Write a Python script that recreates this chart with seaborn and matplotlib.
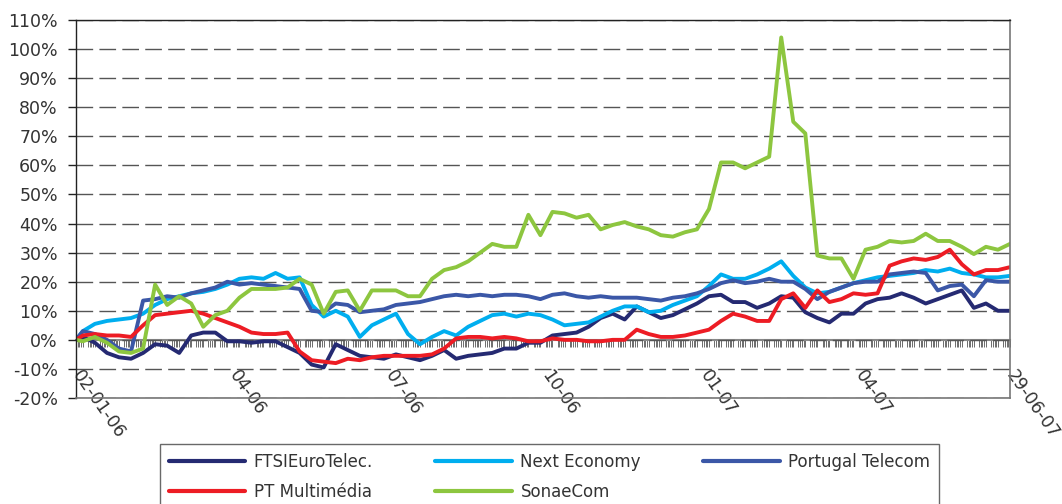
import matplotlib
matplotlib.use("Agg")
import matplotlib.pyplot as plt
import matplotlib.dates as mdates
import matplotlib.ticker as mticker
from matplotlib.lines import Line2D
import pandas as pd
import seaborn as sns

# first day, then weekly readings (Fridays) up to 29-06-07
dates = [pd.Timestamp("2006-01-02")] + list(pd.date_range("2006-01-06", "2007-06-29", freq="7D"))

ftsi = [0,
        1, -1, -4.5, -6, -6.5, -4.5, -1.5, -2, -4.5, 1.5,
        2.5, 2.5, -0.5, -0.5, -1, -0.5, -0.5, -2.5, -4.5, -8.5,
        -9.5, -1.5, -3.5, -5.5, -6, -6.5, -5, -6, -7, -5.5,
        -3.5, -6.5, -5.5, -5, -4.5, -3, -3, -1, -1, 1.5,
        2, 2.5, 4.5, 7.5, 9, 7, 11.5, 9.5, 7.5, 8.5,
        10.5, 12.5, 15, 15.5, 13, 13, 11, 12.5, 15, 14.5,
        9.5, 7.5, 6, 9, 9, 12.5, 14, 14.5, 16, 14.5,
        12.5, 14, 15.5, 17, 11, 12.5, 10, 10]

next_economy = [0,
                3, 5.5, 6.5, 7, 7.5, 9, 12, 14, 15, 16,
                16.5, 17.5, 19, 21, 21.5, 21, 23, 21, 21.5, 12,
                8, 10, 8, 1, 5, 7, 9, 2, -1.5, 1,
                3, 1.5, 4.5, 6.5, 8.5, 9, 8, 9, 8.5, 7,
                5, 5.5, 6, 8, 10, 11.5, 11.5, 9.5, 10, 12,
                13.5, 15, 18.5, 22.5, 21, 21, 22.5, 24.5, 27, 22,
                18, 16, 16.5, 18, 19.5, 20.5, 21.5, 22, 22.5, 23,
                24, 23.5, 24.5, 23, 22.5, 21.5, 21.5, 22]

portugal_telecom = [0,
                    3, 2, 0, -3, -4, 13.5, 14, 15, 14.5, 16,
                    17, 18, 20, 19, 19.5, 19, 18.5, 18, 17.5, 10,
                    9.5, 12.5, 12, 9.5, 10, 10.5, 12, 12.5, 13, 14,
                    15, 15.5, 15, 15.5, 15, 15.5, 15.5, 15, 14, 15.5,
                    16, 15, 14.5, 15, 14.5, 14.5, 14.5, 14, 13.5, 14.5,
                    15, 16, 17.5, 19.5, 20.5, 19.5, 20, 21, 20, 20,
                    17.5, 14, 16.5, 18, 19.5, 20, 20, 22.5, 23, 23.5,
                    23, 17, 18.5, 19, 15, 20.5, 20, 20]

pt_multimedia = [0,
                 1.5, 2, 1.5, 1.5, 1, 5, 8.5, 9, 9.5, 10,
                 9, 7.5, 6, 4.5, 2.5, 2, 2, 2.5, -4, -7,
                 -7.5, -8, -6.5, -7, -6, -5.5, -5.5, -5.5, -5.5, -5,
                 -3, 0.5, 1, 1, 0.5, 1, 0.5, -0.5, -0.5, 0.5,
                 0, 0, -0.5, -0.5, 0, 0, 3.5, 2, 1, 1,
                 1.5, 2.5, 3.5, 6.5, 9, 8, 6.5, 6.5, 14, 16,
                 11, 17, 13, 14, 16, 15.5, 16, 25.5, 27, 28,
                 27.5, 28.5, 31, 26, 22.5, 24, 24, 25]

sonaecom = [0,
            -0.5, 1, -1, -4, -4.5, -3, 19, 12, 15, 12.5,
            4.5, 8.5, 10, 14.5, 17.5, 17.5, 17.5, 18, 21, 19,
            9, 16.5, 17, 10, 17, 17, 17, 15, 15, 21,
            24, 25, 27, 30, 33, 32, 32, 43, 36, 44,
            43.5, 42, 43, 38, 39.5, 40.5, 39, 38, 36, 35.5,
            37, 38, 45, 61, 61, 59, 61, 63, 104, 75,
            71, 29, 28, 28, 21, 31, 32, 34, 33.5, 34,
            36.5, 34, 34, 32, 29.5, 32, 31, 33]

names = ["FTSIEuroTelec.", "Next Economy", "Portugal Telecom", "PT Multimédia", "SonaeCom"]
colors = ["#252a72", "#00aeef", "#3b57a7", "#ed1c24", "#8dc63f"]

tick_dates = pd.to_datetime(["2006-01-02", "2006-04-03", "2006-07-03", "2006-10-02",
                             "2007-01-02", "2007-04-02", "2007-06-29"])
tick_labels = ["02-01-06", "04-06", "07-06", "10-06", "01-07", "04-07", "29-06-07"]

wide = pd.DataFrame({"date": dates, names[0]: ftsi, names[1]: next_economy,
                     names[2]: portugal_telecom, names[3]: pt_multimedia, names[4]: sonaecom})
long = wide.melt(id_vars="date", var_name="series", value_name="value")

sns.set_style("white")
plt.rcParams["font.family"] = ["DejaVu Sans"]
text_color = "#333333"

fig = plt.figure(figsize=(10.62, 5.04), dpi=100)
ax = fig.add_axes([76 / 1062, 1 - 398 / 504, (1010 - 76) / 1062, (398 - 20) / 504])

sns.lineplot(data=long, x="date", y="value", hue="series", hue_order=names,
             palette=colors, linewidth=2.8, ax=ax, legend=False)

ax.set_xlim(pd.Timestamp("2006-01-02"), pd.Timestamp("2007-06-29"))
ax.set_ylim(-20, 110)
ax.set_yticks(range(-20, 111, 10))
ax.yaxis.set_major_formatter(mticker.FuncFormatter(lambda v, p: f"{v:.0f}%"))
ax.yaxis.grid(True, color="#555555", linewidth=1, linestyle=(0, (12, 4.5)))
ax.xaxis.grid(False)
ax.set_axisbelow(True)
ax.set_xlabel("")
ax.set_ylabel("")
ax.tick_params(axis="x", bottom=False, labelbottom=False)
ax.tick_params(axis="y", left=True, length=6, width=1, color="#222222",
               labelsize=12.5, labelcolor=text_color, pad=7)
for side in ["left", "top"]:
    ax.spines[side].set_color("#222222")
    ax.spines[side].set_linewidth(1)
for side in ["right", "bottom"]:
    ax.spines[side].set_color("#777777")
    ax.spines[side].set_linewidth(1.2)

# category axis crossing at 0% with a tick for every trading day
sec = ax.secondary_xaxis(20 / 130)
sec.set_xticks(mdates.date2num(tick_dates))
sec.set_xticklabels(tick_labels, rotation=-55, rotation_mode="anchor",
                    ha="left", va="center", fontsize=12.5, color=text_color)
trading_days = pd.bdate_range("2006-01-02", "2007-06-29")
sec.xaxis.set_minor_locator(mticker.FixedLocator(mdates.date2num(trading_days)))
sec.tick_params(which="both", direction="out", length=5, width=0.6, color="#555555")
sec.tick_params(which="major", pad=18)
sec.spines["bottom"].set_color("#888888")
sec.spines["bottom"].set_linewidth(1.5)

handles = [Line2D([], [], color=c, linewidth=3) for c in colors]
order = [0, 3, 1, 4, 2]
leg = fig.legend([handles[i] for i in order], [names[i] for i in order], ncol=3,
                 loc="upper left", bbox_to_anchor=(152 / 1062, 1 / 504, 795 / 1062, 67 / 504),
                 mode="expand", frameon=True, fancybox=False, edgecolor="#444444",
                 handlelength=4.6, handletextpad=0.5, labelspacing=0.75, borderpad=0.5,
                 fontsize=12, labelcolor=text_color)
leg.get_frame().set_linewidth(1)

fig.savefig("out.png", dpi=100)
